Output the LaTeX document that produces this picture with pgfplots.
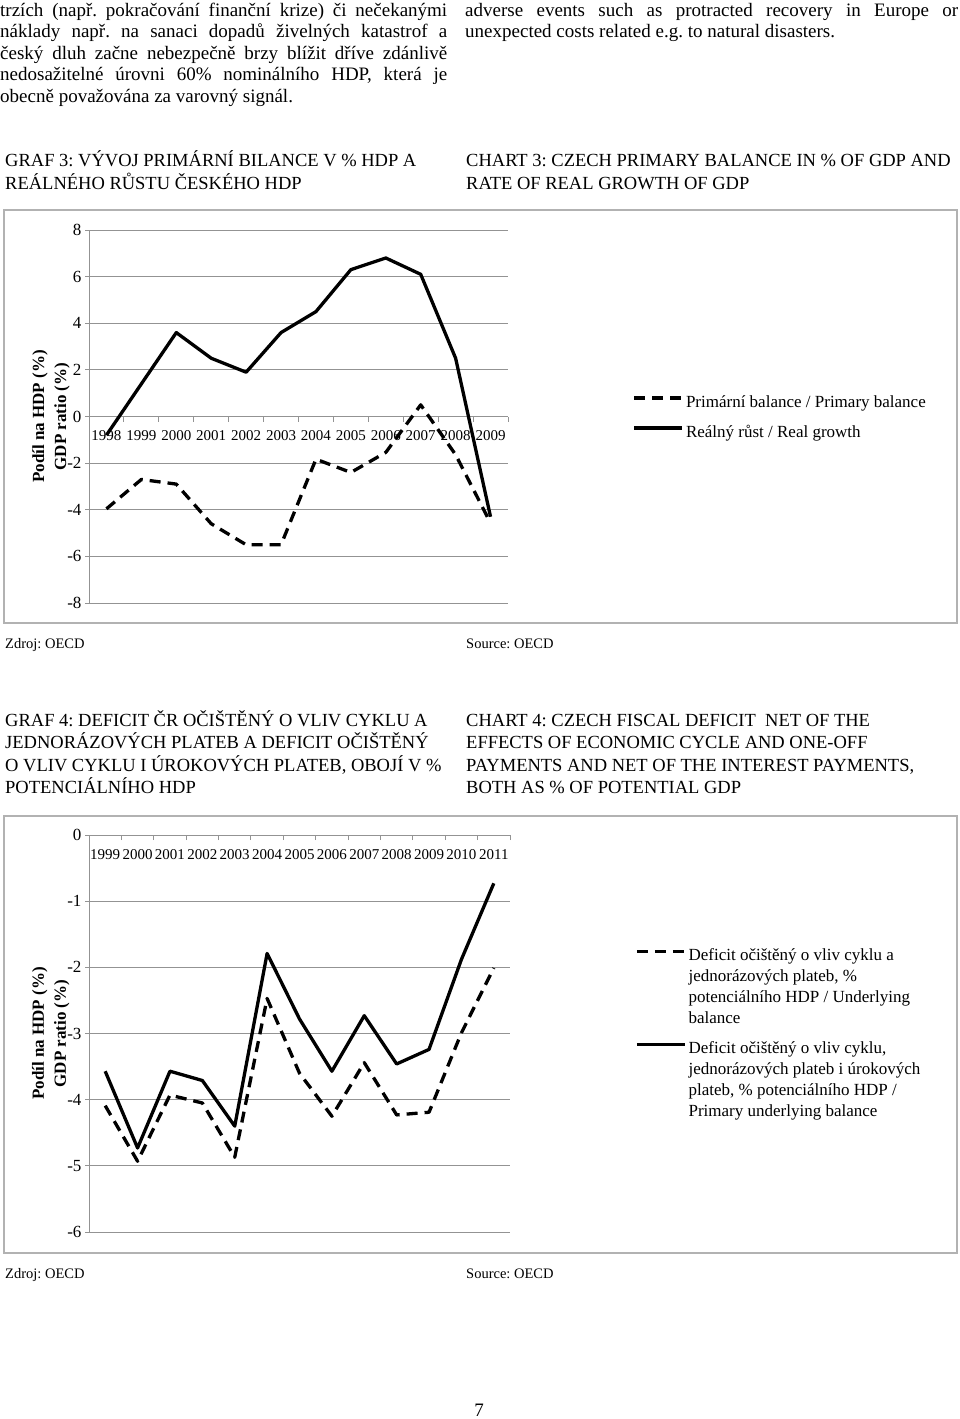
\documentclass[border=0pt]{standalone}
\usepackage{fontspec}
\setmainfont{Liberation Serif}
\usepackage{pgfplots}
\pgfplotsset{compat=1.18}
\frenchspacing
\newcommand{\tl}[3]{\node[anchor=base west, inner sep=0pt] at (#1pt,-#2pt) {#3};}
\newcommand{\lr}{\rule{0pt}{19.5pt}}
\newcommand{\spacer}{\addlegendimage{empty legend}\addlegendentry{\rule{0pt}{7.5pt}}}
\pgfplotsset{
  pagechart/.style={
    scale only axis,
    axis y line=left, axis x line=middle,
    axis line style={-, draw=gray!85, line width=1pt},
    tick align=outside,
    ymajorgrids, grid style={gray!85, line width=1pt},
    major tick length=4pt, minor tick length=5pt,
    major x tick style={draw=none},
    minor x tick style={draw=gray!85, line width=1pt},
    y tick style={draw=gray!85, line width=1pt},
    /pgf/number format/assume math mode=true,
    yticklabel style={font=\fontsize{17}{20}\selectfont},
    xticklabel style={font=\fontsize{15}{20}\selectfont, anchor=north, text height=10.5pt, text depth=0pt, yshift=-6pt},
    ylabel={Podíl na HDP (\%)\\GDP ratio (\%)},
    every axis y label/.style={at={(axis description cs:-0.0907,0.5)}, rotate=90, anchor=center, align=center, font=\bfseries\fontsize{17}{22}\selectfont},
    legend cell align=left,
    legend image code/.code={\path[draw=none, fill=none] (0pt,10.2pt) -- (1pt,10.2pt); \draw[##1] (0pt,0pt) -- (48pt,0pt);},
    legend style={draw=none, fill=none, font=\fontsize{17}{21}\selectfont, row sep=0pt, nodes={inner ysep=0pt}},
  },
  dsh/.style={black, line width=3.3pt, dash pattern=on 11pt off 7pt, line join=round},
  sld/.style={black, line width=3.3pt, line join=round},
}
\begin{document}
\begin{tikzpicture}
\path[use as bounding box] (0pt,0pt) rectangle (960pt,-1419pt);
% body text
\begin{scope}[font=\fontsize{19}{22}\selectfont]
\tl{0}{16}{\makebox[447pt][s]{trzích (např. pokračování finanční krize) či nečekanými}}
\tl{0}{37.5}{\makebox[447pt][s]{náklady např. na sanaci dopadů živelných katastrof a}}
\tl{0}{59}{\makebox[447pt][s]{český dluh začne nebezpečně brzy blížit dříve zdánlivě}}
\tl{0}{80.5}{\makebox[447pt][s]{nedosažitelné úrovni 60\% nominálního HDP, která je}}
\tl{0}{102}{obecně považována za varovný signál.}
\tl{465}{16}{\makebox[493pt][s]{adverse events such as protracted recovery in Europe or}}
\tl{465}{37.5}{unexpected costs related e.g. to natural disasters.}
\end{scope}
% headings
\begin{scope}[font=\fontsize{18.5}{22}\selectfont]
\tl{5}{166.5}{GRAF 3: VÝVOJ PRIMÁRNÍ BILANCE V \% HDP A}
\tl{5}{189.5}{REÁLNÉHO RŮSTU ČESKÉHO HDP}
\tl{466}{166.5}{CHART 3: CZECH PRIMARY BALANCE IN \% OF GDP AND}
\tl{466}{189.5}{RATE OF REAL GROWTH OF GDP}
\tl{5}{726.5}{GRAF 4: DEFICIT ČR OČIŠTĚNÝ O VLIV CYKLU A}
\tl{5}{748.5}{JEDNORÁZOVÝCH PLATEB A DEFICIT OČIŠTĚNÝ}
\tl{5}{771.5}{O VLIV CYKLU I ÚROKOVÝCH PLATEB, OBOJÍ V \%}
\tl{5}{793.5}{POTENCIÁLNÍHO HDP}
\tl{466}{726.5}{CHART 4: CZECH FISCAL DEFICIT \ NET OF THE}
\tl{466}{748.5}{EFFECTS OF ECONOMIC CYCLE AND ONE-OFF}
\tl{466}{771.5}{PAYMENTS AND NET OF THE INTEREST PAYMENTS,}
\tl{466}{793.5}{BOTH AS \% OF POTENTIAL GDP}
\end{scope}
\begin{scope}[font=\fontsize{14.5}{18}\selectfont]
\tl{5}{648}{Zdroj: OECD}
\tl{466}{648}{Source: OECD}
\tl{5}{1278}{Zdroj: OECD}
\tl{466}{1278}{Source: OECD}
\end{scope}
\node[anchor=base, inner sep=0pt, font=\fontsize{19}{22}\selectfont] at (479pt,-1416pt) {7};
% boxes
\draw[gray!60, line width=1.5pt] (4pt,-210pt) rectangle (957pt,-623pt);
\draw[gray!60, line width=1.5pt] (4pt,-816pt) rectangle (957pt,-1253pt);
% chart 3
\begin{axis}[pagechart, at={(89pt,-603pt)}, anchor=south west, width=419pt, height=373pt,
  xmin=-0.5, xmax=11.5, ymin=-8, ymax=8, ytick={-8,-6,...,8},
  xtick={0,...,11}, xticklabels={1998,1999,2000,2001,2002,2003,2004,2005,2006,2007,2008,2009},
  minor xtick={-0.5,0.5,...,11.5},
  legend style={at={(axis description cs:1.29,0.509)}, anchor=west}]
\addplot[dsh] coordinates {(0,-3.96)(1,-2.7)(2,-2.9)(3,-4.6)(4,-5.5)(5,-5.5)(6,-1.83)(7,-2.4)(8,-1.54)(9,0.5)(10,-1.64)(11,-4.57)};
\addlegendentry{\lr Primární balance / Primary balance}
\spacer
\addplot[sld] coordinates {(0,-0.8)(1,1.4)(2,3.6)(3,2.5)(4,1.9)(5,3.6)(6,4.5)(7,6.3)(8,6.8)(9,6.1)(10,2.5)(11,-4.3)};
\addlegendentry{\lr Reálný růst / Real growth}
\end{axis}
% chart 4
\begin{axis}[pagechart, at={(89pt,-1232pt)}, anchor=south west, width=421pt, height=397pt,
  xmin=-0.5, xmax=12.5, ymin=-6, ymax=0, ytick={-6,...,0},
  xtick={0,...,12}, xticklabels={1999,2000,2001,2002,2003,2004,2005,2006,2007,2008,2009,2010,2011},
  minor xtick={-0.5,0.5,...,12.5},
  legend style={at={(axis description cs:1.29,0.511)}, anchor=west}]
\addplot[dsh] coordinates {(0,-4.09)(1,-4.93)(2,-3.93)(3,-4.05)(4,-4.87)(5,-2.47)(6,-3.6)(7,-4.25)(8,-3.44)(9,-4.23)(10,-4.19)(11,-2.99)(12,-2.01)};
\addlegendentry{\lr Deficit očištěný o vliv cyklu a}
\addlegendimage{empty legend}\addlegendentry{\lr jednorázových plateb, \%}
\addlegendimage{empty legend}\addlegendentry{\lr potenciálního HDP / Underlying}
\addlegendimage{empty legend}\addlegendentry{\lr balance}
\spacer
\addplot[sld] coordinates {(0,-3.57)(1,-4.73)(2,-3.57)(3,-3.71)(4,-4.40)(5,-1.79)(6,-2.78)(7,-3.57)(8,-2.73)(9,-3.46)(10,-3.24)(11,-1.88)(12,-0.73)};
\addlegendentry{\lr Deficit očištěný o vliv cyklu,}
\addlegendimage{empty legend}\addlegendentry{\lr jednorázových plateb i úrokových}
\addlegendimage{empty legend}\addlegendentry{\lr plateb, \% potenciálního HDP /}
\addlegendimage{empty legend}\addlegendentry{\lr Primary underlying balance}
\end{axis}
\end{tikzpicture}
\end{document}
